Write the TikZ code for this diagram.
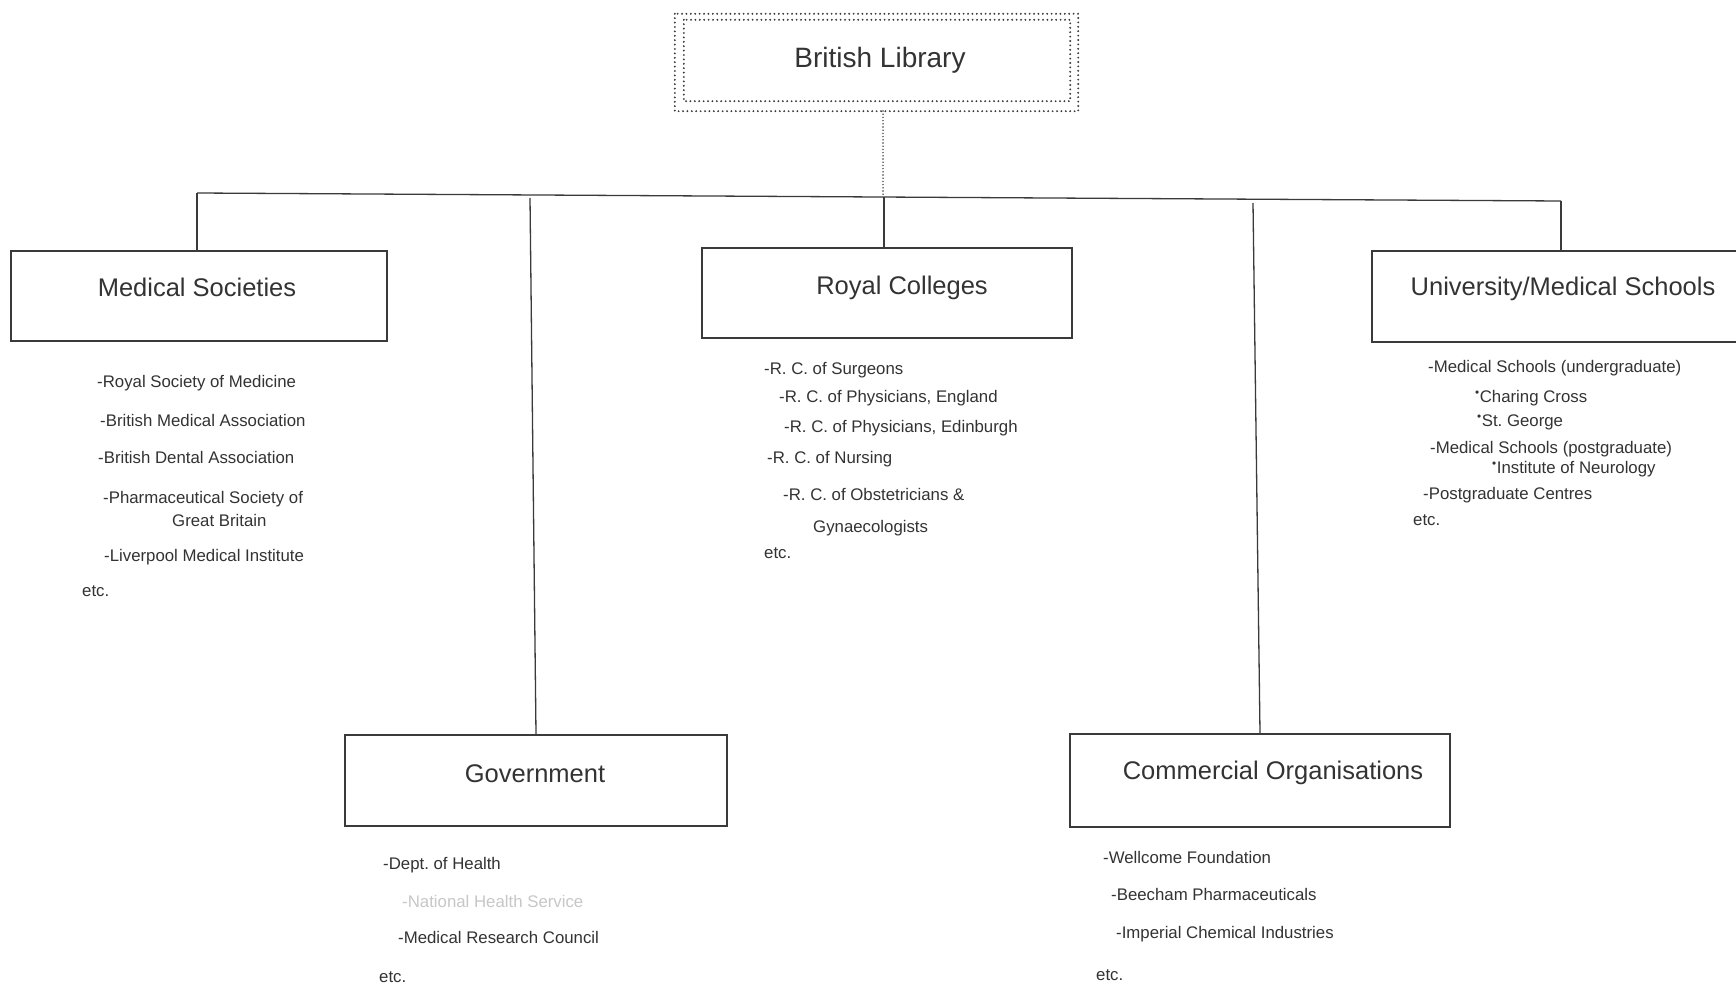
\documentclass[tikz,border=0pt]{standalone}
\usepackage{fontspec}
\setmainfont{Liberation Sans}
\frenchspacing
\definecolor{ink}{HTML}{333333}
\definecolor{lin}{HTML}{3A3A3A}
\begin{document}
\begin{tikzpicture}[x=1pt,y=-1pt,
  box/.style={draw=lin, line width=1.3pt, rectangle, inner sep=0pt},
  dotline/.style={draw=lin, line width=2.1pt, line cap=round, dash pattern=on 0pt off 4.4pt},
  title/.style={inner sep=0pt, text=ink, font=\fontsize{25.5}{30}\selectfont, text height=18pt, text depth=0pt, anchor=center},
  item/.style={inner sep=0pt, text=ink, font=\fontsize{16.8}{20}\selectfont, text height=11pt, text depth=0pt, anchor=west},
  faded/.style={item, text=black!22},
  conn/.style={draw=lin, line width=1.3pt}]
\clip (0,0) rectangle (1736,984);
\fill[white] (0,0) rectangle (1736,984);

% British Library
\node[draw=none, minimum width=403pt, minimum height=97pt, inner sep=0pt] (bl) at (876.5,62.5) {};
\draw[dotline] (bl.north west) rectangle (bl.south east);
\draw[dotline] ([shift={(9,6)}]bl.north west) rectangle ([shift={(-8,-10)}]bl.south east);
\node[title, font=\fontsize{28}{32}\selectfont, text height=20pt] (blt) at (880,58) {British Library};

% bus
\coordinate (busL) at (197,193);
\coordinate (busR) at (1561,201);
\coordinate (blj) at (883,197);
\coordinate (rcj) at (884,197);
\coordinate (govj) at (530,198);
\coordinate (comj) at (1253,203);
\coordinate (blb) at (883,111);
\draw[conn] (busL) -- (busR);
\draw[dotline, line width=1.6pt, dash pattern=on 0pt off 3.2pt] (blb) -- (blj);

% boxes
\node[box, minimum width=376pt, minimum height=90pt] (ms) at (199,296) {};
\node[box, minimum width=370pt, minimum height=90pt] (rc) at (887,293) {};
\node[box, minimum width=388pt, minimum height=91pt] (uni) at (1566,296.5) {};
\node[box, minimum width=382pt, minimum height=91pt] (gov) at (536,780.5) {};
\node[box, minimum width=380pt, minimum height=93pt] (com) at (1260,780.5) {};

\node[title] (mst) at (197,287) {Medical Societies};
\node[title] (rct) at (902,285) {Royal Colleges};
\node[title] (unit) at (1563,286) {University/Medical Schools};
\node[title] (govt) at (535,773) {Government};
\node[title] (comt) at (1273,770) {Commercial Organisations};

% connectors
\draw[conn] (busL) -- (busL |- ms.north);
\draw[conn] (rcj) -- (rcj |- rc.north);
\draw[conn] (busR) -- (busR |- uni.north);
\draw[conn] (govj) -- (gov.north);
\draw[conn] (comj) -- (com.north);

% Medical Societies list
\node[item] (ms1) at (97,382) {-Royal Society of Medicine};
\node[item] (ms2) at (100,421) {-British Medical Association};
\node[item] (ms3) at (98,458) {-British Dental Association};
\node[item] (ms4) at (103,498) {-Pharmaceutical Society of};
\node[item] (ms5) at (172,521) {Great Britain};
\node[item] (ms6) at (104,556) {-Liverpool Medical Institute};
\node[item] (ms7) at (82,591) {etc.};

% Royal Colleges list
\node[item] (rc1) at (764,369) {-R. C. of Surgeons};
\node[item] (rc2) at (779,397) {-R. C. of Physicians, England};
\node[item] (rc3) at (784,427) {-R. C. of Physicians, Edinburgh};
\node[item] (rc4) at (767,458) {-R. C. of Nursing};
\node[item] (rc5) at (783,495) {-R. C. of Obstetricians \&};
\node[item] (rc6) at (813,527) {Gynaecologists};
\node[item] (rc7) at (764,553) {etc.};

% University list
\node[item] (un1) at (1428,367) {-Medical Schools (undergraduate)};
\node[item] (un2) at (1475,397) {\textsuperscript{•}Charing Cross};
\node[item] (un3) at (1477,421) {\textsuperscript{•}St. George};
\node[item] (un4) at (1430,448) {-Medical Schools (postgraduate)};
\node[item] (un5) at (1492,468) {\textsuperscript{•}Institute of Neurology};
\node[item] (un6) at (1423,494) {-Postgraduate Centres};
\node[item] (un7) at (1413,520) {etc.};

% Government list
\node[item] (gv1) at (383,864) {-Dept. of Health};
\node[faded] (gv2) at (402,902) {-National Health Service};
\node[item] (gv3) at (398,938) {-Medical Research Council};
\node[item] (gv4) at (379,977) {etc.};

% Commercial list
\node[item] (co1) at (1103,858) {-Wellcome Foundation};
\node[item] (co2) at (1111,895) {-Beecham Pharmaceuticals};
\node[item] (co3) at (1116,933) {-Imperial Chemical Industries};
\node[item] (co4) at (1096,975) {etc.};
\end{tikzpicture}
\end{document}
